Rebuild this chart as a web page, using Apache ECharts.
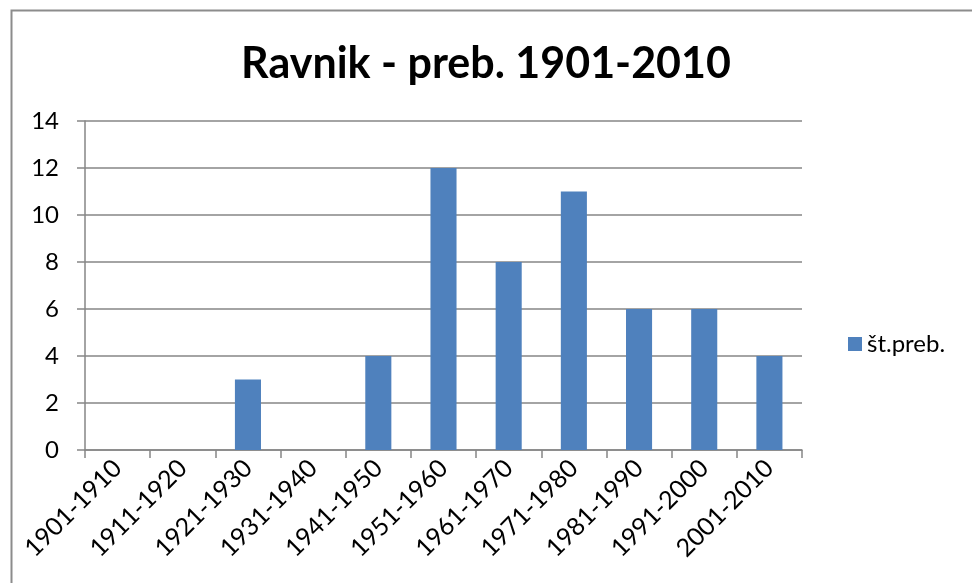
<!DOCTYPE html>
<html>
<head>
<meta charset="utf-8">
<script src="https://cdn.jsdelivr.net/npm/echarts@6/dist/echarts.min.js"></script>
<style>html,body{margin:0;padding:0;background:#fff}#c{width:972px;height:583px}</style>
</head>
<body>
<div id="c"></div>
<script>
const categories = ['1901-1910','1911-1920','1921-1930','1931-1940','1941-1950','1951-1960','1961-1970','1971-1980','1981-1990','1991-2000','2001-2010'];
const values = [0,0,3,0,4,12,8,11,6,6,4];
const seriesName = 'št.preb.';
const titleText = 'Ravnik - preb. 1901-2010';
const FONT = 'Lato, "Open Sans", sans-serif';

const chart = echarts.init(document.getElementById('c'));
chart.setOption({
  animation: false,
  graphic: [{
    type: 'rect', left: 9, top: 8,
    shape: { width: 962, height: 590 },
    style: { fill: 'none', stroke: '#8c8c8c', lineWidth: 2 }
  }],
  title: {
    text: titleText, left: 'center', top: 38,
    textStyle: { fontFamily: FONT, fontSize: 43, fontWeight: 'bold', color: '#000' }
  },
  legend: {
    data: [seriesName], left: 843, top: 327, icon: 'rect', itemWidth: 14, itemHeight: 14, itemGap: 8,
    textStyle: { fontFamily: FONT, fontSize: 24, color: '#000' }
  },
  grid: { left: 85, right: 170, top: 121, bottom: 133, containLabel: false },
  xAxis: {
    type: 'category', data: categories,
    axisLine: { lineStyle: { color: '#868686', width: 1.5 } },
    axisTick: { show: true, length: 8, alignWithLabel: false, lineStyle: { color: '#868686', width: 1.5 } },
    axisLabel: { rotate: 45, interval: 0, fontFamily: FONT, fontSize: 25, color: '#000', margin: 14 }
  },
  yAxis: {
    type: 'value', min: 0, max: 14, interval: 2,
    axisLine: { show: true, lineStyle: { color: '#868686', width: 1.5 } },
    axisTick: { show: true, length: 8, lineStyle: { color: '#868686', width: 1.5 } },
    axisLabel: { fontFamily: FONT, fontSize: 24, color: '#000', margin: 26 },
    splitLine: { lineStyle: { color: '#868686', width: 1.5 } }
  },
  series: [{
    name: seriesName, type: 'bar', data: values, barWidth: '40%',
    itemStyle: { color: '#4F81BD' }
  }]
});
</script>
</body>
</html>
